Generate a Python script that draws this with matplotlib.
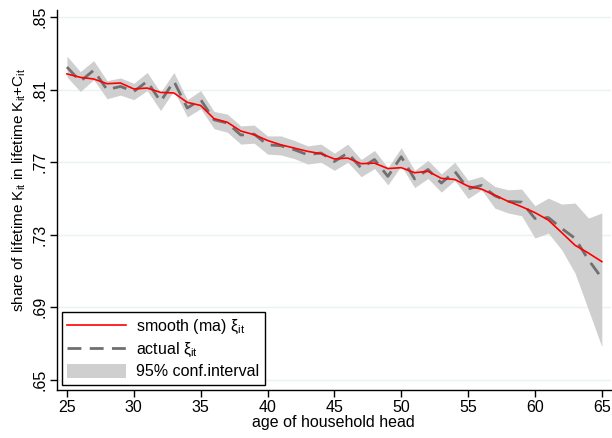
import numpy as np
import matplotlib
matplotlib.use("Agg")
import matplotlib.pyplot as plt
from matplotlib.patches import Patch
from matplotlib.lines import Line2D

plt.rcParams['font.family'] = ['Liberation Sans', 'DejaVu Sans']
plt.rcParams['mathtext.fontset'] = 'custom'
plt.rcParams['mathtext.rm'] = 'Liberation Sans'
plt.rcParams['mathtext.it'] = 'Liberation Sans:italic'

# data
age = np.arange(25, 66)

actual = [0.8225, 0.8146, 0.8207, 0.8100, 0.8118, 0.8090, 0.8146, 0.8035, 0.8146, 0.7999,
          0.8045, 0.7934, 0.7916, 0.7850, 0.7855, 0.7796, 0.7791, 0.7769, 0.7741, 0.7751,
          0.7704, 0.7751, 0.7668, 0.7715, 0.7622, 0.7730, 0.7608, 0.7660, 0.7585, 0.7650,
          0.7553, 0.7572, 0.7515, 0.7484, 0.7480, 0.7390, 0.7395, 0.7335, 0.7280, 0.7162,
          0.7061]

smooth = [0.8187, 0.8168, 0.8159, 0.8133, 0.8137, 0.8104, 0.8109, 0.8085, 0.8082, 0.8030,
          0.8013, 0.7940, 0.7920, 0.7872, 0.7852, 0.7820, 0.7796, 0.7778, 0.7760, 0.7747,
          0.7718, 0.7723, 0.7692, 0.7695, 0.7665, 0.7670, 0.7642, 0.7650, 0.7611, 0.7605,
          0.7568, 0.7552, 0.7518, 0.7484, 0.7455, 0.7422, 0.7381, 0.7312, 0.7242, 0.7199,
          0.7152]

ci_hi = [0.8285, 0.8200, 0.8260, 0.8150, 0.8165, 0.8135, 0.8195, 0.8085, 0.8195, 0.8045,
         0.8095, 0.7980, 0.7965, 0.7900, 0.7905, 0.7845, 0.7845, 0.7820, 0.7790, 0.7800,
         0.7750, 0.7800, 0.7715, 0.7765, 0.7670, 0.7780, 0.7655, 0.7710, 0.7635, 0.7700,
         0.7600, 0.7622, 0.7566, 0.7548, 0.7552, 0.7460, 0.7502, 0.7469, 0.7475, 0.7392,
         0.7420]

ci_lo = [0.8170, 0.8090, 0.8155, 0.8050, 0.8070, 0.8045, 0.8095, 0.7985, 0.8095, 0.7950,
         0.7995, 0.7885, 0.7865, 0.7800, 0.7805, 0.7745, 0.7740, 0.7720, 0.7690, 0.7700,
         0.7655, 0.7700, 0.7620, 0.7665, 0.7575, 0.7680, 0.7560, 0.7610, 0.7535, 0.7600,
         0.7500, 0.7548, 0.7447, 0.7420, 0.7405, 0.7282, 0.7309, 0.7217, 0.7088, 0.6886,
         0.6683]

yticks = [0.65, 0.69, 0.73, 0.77, 0.81, 0.85]
ylabels = ['.65', '.69', '.73', '.77', '.81', '.85']
xticks = [25, 30, 35, 40, 45, 50, 55, 60, 65]

fig = plt.figure(figsize=(6.12, 4.38), dpi=100)
ax = fig.add_axes([0.093, 0.11, 0.905, 0.867])

band_col = '#cfcfcf'
ax.fill_between(age, ci_lo, ci_hi, color=band_col, lw=0, zorder=2)
ax.plot(age, actual, color='#707070', lw=2, dashes=(5, 3), zorder=3)
ax.plot(age, smooth, color='red', lw=1.2, zorder=4)

ax.set_xlim(24.25, 65.67)
ax.set_ylim(0.6445, 0.8539)
ax.set_xticks(xticks)
ax.set_yticks(yticks)
ax.set_yticklabels(ylabels, rotation=90, va='center')
ax.tick_params(direction='out', length=5, width=1, labelsize=11.5, color='black', pad=2)

for y in yticks:
    ax.axhline(y, color='#eaf2f3', lw=1, zorder=1)

for s in ['top', 'right']:
    ax.spines[s].set_visible(False)
for s in ['left', 'bottom']:
    ax.spines[s].set_linewidth(1)

ax.set_xlabel('age of household head', fontsize=11.5, labelpad=0)
ax.set_ylabel(r'share of lifetime K$_{\rm it}$ in lifetime K$_{\rm it}$+C$_{\rm it}$',
              fontsize=11)
ax.yaxis.set_label_coords(-0.052, 0.526)

handles = [Line2D([], [], color='red', lw=1.2),
           Line2D([], [], color='#707070', lw=2, dashes=(5, 3)),
           Patch(facecolor=band_col, edgecolor='none')]
labels = [r'smooth (ma) ξ$_{\rm it}$', r'actual ξ$_{\rm it}$', '95% conf.interval']
leg = ax.legend(handles, labels, loc='lower left', fontsize=11.5, frameon=True,
                fancybox=False, edgecolor='black', handlelength=3.7, handleheight=1.0,
                borderaxespad=0.3, labelspacing=0.3, borderpad=0.35, handletextpad=0.6)
leg.get_frame().set_linewidth(1)
leg.get_frame().set_alpha(1)

fig.savefig('out.png', dpi=100)
